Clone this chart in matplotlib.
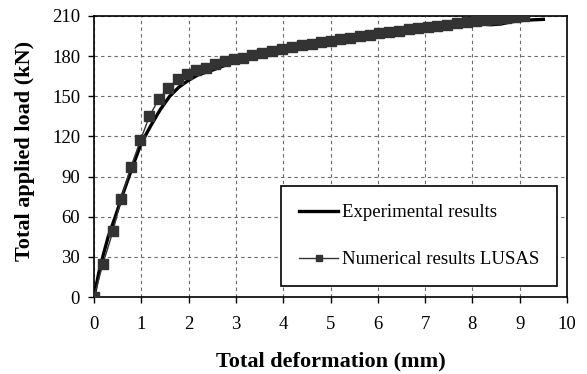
import matplotlib.pyplot as plt

# numerical model (LUSAS) - load/deformation points
num_def = [0, 0.19, 0.40, 0.57, 0.78, 0.98, 1.17, 1.37, 1.57, 1.77, 1.96, 2.15,
           2.36, 2.55, 2.76, 2.97, 3.15, 3.35, 3.55, 3.76, 3.97, 4.18, 4.39, 4.60,
           4.80, 5.01, 5.21, 5.42, 5.62, 5.83, 6.03, 6.24, 6.44, 6.65, 6.85, 7.06,
           7.26, 7.47, 7.67, 7.88, 8.08, 8.29, 8.49, 8.70, 8.90, 9.10]
num_load = [0, 25, 49, 73, 97, 117, 135, 148, 156, 163, 167, 169.5,
            171.5, 174, 176, 177.5, 178.5, 180.5, 182, 183.5, 185, 186.5, 188, 189,
            190.5, 191.5, 192.5, 193.5, 195, 196, 197, 198, 199, 200, 201, 201.5,
            202.5, 203.5, 204.5, 205.5, 206.5, 207, 207.5, 208.5, 209.5, 210]

# test curve
exp_def = [0, 0.1, 0.2, 0.3, 0.45, 0.6, 0.8, 1.0, 1.2, 1.4, 1.6, 1.8, 2.0, 2.2,
           2.5, 2.8, 3.0, 3.5, 4, 5, 6, 7, 7.5, 8.0, 8.2, 8.4, 8.6, 8.8, 9.0, 9.2, 9.5]
exp_load = [0, 18, 32, 45, 60, 76, 96, 115, 128, 140, 150, 157, 162, 166,
            169.5, 173.5, 176, 181, 185, 191.5, 197, 201.5, 203.5, 204.5, 204, 203.5,
            204, 205.5, 206.5, 207, 207.5]

plt.rcParams['font.family'] = 'Liberation Serif'

fig = plt.figure(figsize=(5.87, 3.74), dpi=100)
ax = fig.add_axes([94/587, 1 - 297/374, 473/587, 281/374])

ax.plot(exp_def, exp_load, color='black', lw=2.4, label='Experimental results', zorder=3)
ax.plot(num_def, num_load, color='#333333', lw=1, marker='s', markersize=6.5,
        label='Numerical results LUSAS', zorder=4)

ax.set_xlim(0, 10)
ax.set_ylim(0, 210)
ax.set_xticks(range(0, 11))
ax.set_yticks(range(0, 211, 30))
ax.grid(True, linestyle=(0, (3, 3)), color='#6a6a6a', lw=0.8)
ax.tick_params(direction='out', length=4, labelsize=13.5, width=1)
ax.tick_params(axis='x', pad=10)
ax.tick_params(axis='y', pad=6)
for s in ax.spines.values():
    s.set_linewidth(1.2)

ax.set_xlabel('Total deformation (mm)', fontsize=16, fontweight='bold', va='center')
ax.set_ylabel('Total applied load (kN)', fontsize=16, fontweight='bold', va='center')
ax.xaxis.set_label_coords(0.5, (297 - 361) / 281)
ax.yaxis.set_label_coords((25 - 94) / 473, 0.52)

leg = ax.legend(loc='lower right', bbox_to_anchor=(0.979, 0.039), borderaxespad=0,
                fontsize=13.5, fancybox=False, framealpha=1, edgecolor='black',
                handlelength=2.1, labelspacing=1.6, borderpad=0.95,
                handletextpad=0.2, markerscale=0.7)
leg.get_frame().set_linewidth(1.2)

fig.savefig('out.png', dpi=100)
